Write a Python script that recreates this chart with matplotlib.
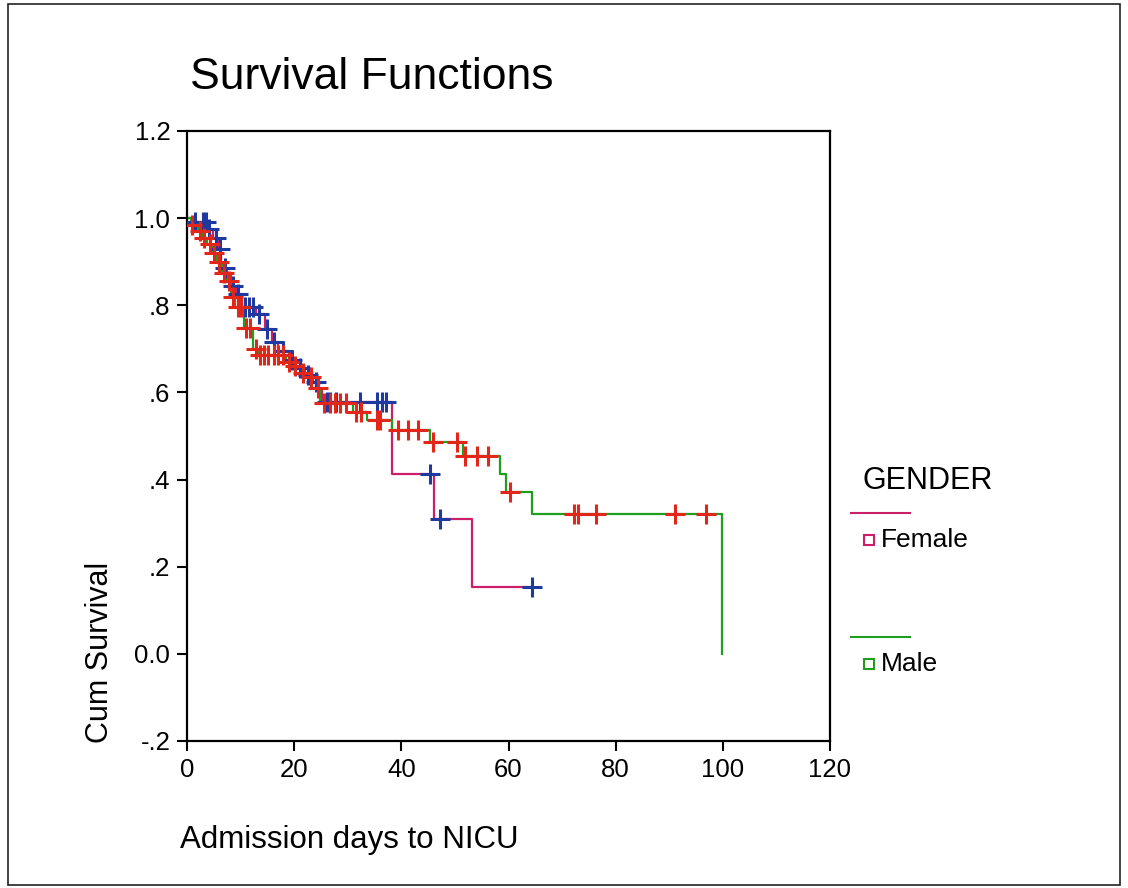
import numpy as np
import matplotlib.pyplot as plt
from matplotlib.lines import Line2D
from matplotlib.patches import Rectangle

# Kaplan-Meier estimates by gender: event days and survival after each event
f_event_days = [1.2, 3.8, 4.8, 5.8, 6.3, 7.5, 8.2, 9.2, 10.2, 12.8, 14.5, 15.8, 17.0,
                19.0, 20.2, 22.0, 23.5, 24.6, 25.2, 38.2, 46.1, 53.2]
f_event_surv = [0.99, 0.975, 0.955, 0.93, 0.885, 0.87, 0.845, 0.825, 0.795, 0.78, 0.745,
                0.715, 0.695, 0.675, 0.655, 0.64, 0.625, 0.605, 0.579, 0.412, 0.309, 0.154]
f_censor_days = [1.5, 2.9, 3.5, 4.1, 5.5, 6.2, 7.0, 8.6, 9.6, 10.8, 11.6, 12.3, 13.5, 14.9,
                 16.2, 18.0, 19.6, 21.0, 22.6, 24.0, 26.1, 26.7, 27.9, 32.3, 35.4, 36.3,
                 37.2, 45.3, 47.2, 64.3]

m_event_days = [0.8, 2.0, 2.8, 3.8, 4.6, 5.6, 6.5, 7.4, 8.2, 9.0, 10.6, 12.3, 13.2, 18.4,
                19.6, 21.0, 22.6, 24.0, 24.8, 31.0, 33.5, 38.2, 45.3, 51.5, 58.4, 59.6,
                64.3, 99.9]
m_event_surv = [0.985, 0.97, 0.955, 0.94, 0.92, 0.90, 0.875, 0.855, 0.82, 0.795, 0.748,
                0.70, 0.686, 0.67, 0.66, 0.645, 0.635, 0.61, 0.575, 0.555, 0.537, 0.513,
                0.487, 0.453, 0.412, 0.372, 0.32, 0.0]
m_censor_days = [1.0, 2.4, 3.2, 4.2, 5.0, 6.0, 6.9, 7.8, 8.6, 9.5, 10.0, 11.0, 11.8, 12.8,
                 13.6, 14.4, 15.2, 16.2, 17.0, 18.0, 19.0, 20.2, 21.6, 23.2, 24.4, 25.6,
                 26.6, 27.6, 28.6, 29.6, 31.6, 32.4, 35.4, 36.0, 39.4, 41.3, 43.2, 45.9,
                 50.4, 51.8, 54.1, 56.2, 60.3, 72.2, 73.0, 76.4, 91.0, 96.9]

y_ticks = [-0.2, 0.0, 0.2, 0.4, 0.6, 0.8, 1.0, 1.2]
y_ticklabels = ['-.2', '0.0', '.2', '.4', '.6', '.8', '1.0', '1.2']
x_ticks = [0, 20, 40, 60, 80, 100, 120]

female_line = '#cc1f6a'
male_line = '#1f9e1f'
female_cens = '#1f3a9e'
male_cens = '#e2261a'

W, H = 1128, 888
fig = plt.figure(figsize=(W / 100, H / 100), dpi=100)
fig.patch.set_facecolor('white')

def fx(px):
    return px / W

def fy(py):
    return 1 - py / H

ax = fig.add_axes([fx(187), fy(741), fx(830) - fx(187), fy(131) - fy(741)])

def step_curve(days, surv):
    x = np.concatenate([[0.0], days])
    y = np.concatenate([[1.0], surv])
    return x, y

def surv_at(days, surv, t):
    idx = np.searchsorted(np.asarray(days), t, side='right')
    vals = np.concatenate([[1.0], surv])
    return vals[idx]

# female curve runs on to its last censored case
fx_, fy_ = step_curve(f_event_days, f_event_surv)
fx_ = np.append(fx_, f_censor_days[-1])
fy_ = np.append(fy_, f_event_surv[-1])
ax.step(fx_, fy_, where='post', color=female_line, lw=1.6, zorder=2)

mx_, my_ = step_curve(m_event_days, m_event_surv)
ax.step(mx_, my_, where='post', color=male_line, lw=1.6, zorder=2)

f_cy = surv_at(f_event_days, f_event_surv, np.array(f_censor_days))
m_cy = surv_at(m_event_days, m_event_surv, np.array(m_censor_days))
ax.plot(f_censor_days, f_cy, ls='none', marker='+', ms=14, mew=2.2,
        color=female_cens, zorder=3)
ax.plot(m_censor_days, m_cy, ls='none', marker='+', ms=14, mew=2.2,
        color=male_cens, zorder=4)

ax.set_xlim(0, 120)
ax.set_ylim(-0.2, 1.2)
ax.set_xticks(x_ticks)
ax.set_yticks(y_ticks)
ax.set_yticklabels(y_ticklabels)
ax.tick_params(direction='out', length=7, width=1.5, pad=5, labelsize=18.5)
for lab in ax.get_xticklabels() + ax.get_yticklabels():
    lab.set_family(['Liberation Sans', 'DejaVu Sans'])
for sp in ax.spines.values():
    sp.set_linewidth(1.6)

txt = ['Liberation Sans', 'DejaVu Sans']
fig.text(fx(190), fy(77), 'Survival Functions', fontsize=32, family=txt, va='center', ha='left')
fig.text(fx(180), fy(840), 'Admission days to NICU', fontsize=22.5, family=txt,
         va='center', ha='left')
fig.text(fx(100), fy(743), 'Cum Survival', fontsize=22, family=txt, rotation=90,
         va='bottom', ha='center')

# legend block on the right
fig.text(fx(863), fy(481), 'GENDER', fontsize=22, family=txt, va='center', ha='left')
for color, name, ly in [(female_line, 'Female', 513), (male_line, 'Male', 637)]:
    fig.add_artist(Line2D([fx(851), fx(910)], [fy(ly), fy(ly)], color=color, lw=1.5))
    fig.add_artist(Line2D([fx(869)], [fy(ly + 27)], marker='s', ms=7, mfc='white',
                          mec=color, mew=1.5, ls='none'))
    fig.text(fx(881), fy(ly + 27), name, fontsize=19, family=txt, va='center', ha='left')

# outer frame
fig.add_artist(Rectangle((fx(8), fy(885)), fx(1120) - fx(8), fy(4) - fy(885),
                         transform=fig.transFigure, fill=False, ec='#222222', lw=1.2))

fig.savefig('out.png', dpi=100)
